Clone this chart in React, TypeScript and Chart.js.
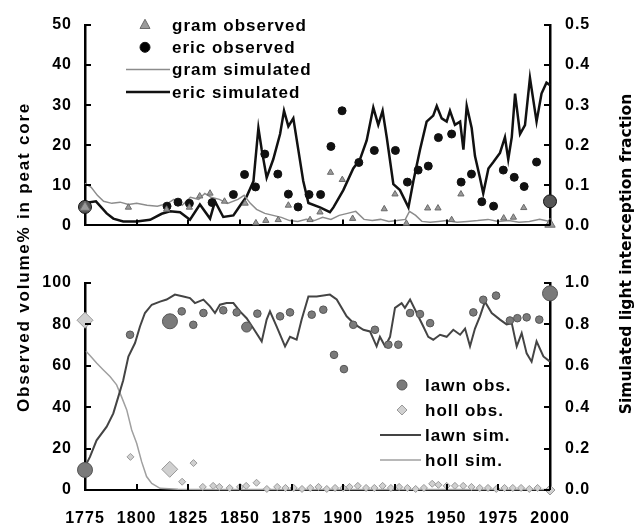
import React, { useEffect, useRef } from "react";
import { Chart, registerables } from "chart.js";

Chart.register(...registerables);

const FONT = '"Liberation Sans", Arial, sans-serif';

// ---------------- DATA (top panel) ----------------
const X_TICKS = [1775, 1800, 1825, 1850, 1875, 1900, 1925, 1950, 1975, 2000];
const TOP_LEFT_TICKS = [0, 10, 20, 30, 40, 50];
const TOP_RIGHT_TICKS = [0, 0.1, 0.2, 0.3, 0.4, 0.5];
const BOTTOM_LEFT_TICKS = [0, 20, 40, 60, 80, 100];
const BOTTOM_RIGHT_TICKS = [0, 0.2, 0.4, 0.6, 0.8, 1.0];

// observed volume % [year, value]
const gramObserved = [
  [1775, 4.5], [1796, 4.5], [1814.5, 4.0], [1825.5, 4.5], [1830.5, 7.3], [1835.5, 8.0],
  [1842.5, 6.0], [1852.5, 5.5], [1857.7, 0.6], [1862.5, 1.2], [1868.5, 1.4], [1873.4, 5.0],
  [1883.9, 1.4], [1888.7, 3.3], [1893.8, 13.2], [1899.5, 11.4], [1904.5, 1.7], [1919.8, 4.1],
  [1925, 7.8], [1930.5, 0.5], [1940.8, 4.3], [1945.8, 4.3], [1952.4, 1.4], [1956.9, 7.8],
  [1977.6, 1.8], [1982.3, 2.0], [1987.3, 4.4], [2000, 0.3],
];
const ericObserved = [
  [1775, 4.6], [1814.7, 4.8], [1820, 5.8], [1825.5, 5.5], [1836.5, 5.7], [1846.8, 7.7],
  [1852.2, 12.7], [1857.5, 9.6], [1862, 17.8], [1868.3, 12.8], [1873.4, 7.8], [1878.1, 4.6],
  [1883.4, 7.7], [1889, 7.7], [1894, 19.7], [1899.4, 28.6], [1907.5, 15.7], [1915, 18.7],
  [1925.2, 18.7], [1931, 10.8], [1936.2, 13.8], [1941.1, 14.8], [1946, 21.9], [1952.4, 22.8],
  [1957, 10.8], [1962, 12.8], [1967, 5.9], [1972.7, 4.8], [1977.4, 13.8], [1982.7, 12],
  [1987.5, 9.7], [1993.5, 15.8], [2000, 6],
];
// simulated light interception fraction [year, value]
const gramSimulated = [
  [1775, 0.105], [1778, 0.095], [1781, 0.075], [1784, 0.06], [1788, 0.055], [1792, 0.058],
  [1796, 0.052], [1800, 0.055], [1805, 0.05], [1810, 0.048], [1815, 0.055], [1818, 0.065],
  [1822, 0.05], [1826, 0.07], [1830, 0.065], [1833, 0.08], [1836, 0.07], [1840, 0.065],
  [1844, 0.055], [1849, 0.065], [1852, 0.075], [1855, 0.055], [1858, 0.04], [1862, 0.03],
  [1866, 0.025], [1870, 0.02], [1874, 0.012], [1878, 0.01], [1882, 0.015], [1886, 0.012],
  [1890, 0.02], [1894, 0.015], [1898, 0.025], [1902, 0.03], [1906, 0.035], [1910, 0.015],
  [1914, 0.012], [1918, 0.015], [1922, 0.01], [1926, 0.012], [1930, 0.015], [1932, 0.035],
  [1935, 0.025], [1938, 0.01], [1942, 0.008], [1946, 0.01], [1950, 0.012], [1955, 0.008],
  [1960, 0.01], [1965, 0.012], [1970, 0.015], [1975, 0.01], [1980, 0.012], [1985, 0.008],
  [1990, 0.01], [1995, 0.015], [2000, 0.01],
];
const ericSimulated = [
  [1775, 0.056], [1780.3, 0.06], [1785.5, 0.03], [1788.7, 0.017], [1793.5, 0.01], [1800, 0.01],
  [1806.5, 0.014], [1812.1, 0.029], [1816.1, 0.035], [1821, 0.033], [1825.8, 0.014], [1830.6, 0.052],
  [1835.5, 0.017], [1837.9, 0.06], [1841.9, 0.021], [1846.8, 0.025], [1850, 0.049], [1853.2, 0.072],
  [1856.5, 0.11], [1858.9, 0.243], [1860.5, 0.189], [1862.9, 0.119], [1866.1, 0.165], [1869.4, 0.228],
  [1871.3, 0.286], [1873.4, 0.247], [1875.8, 0.267], [1878.2, 0.189], [1880.6, 0.111], [1883.1, 0.056],
  [1888.7, 0.045], [1893.5, 0.033], [1895.2, 0.045], [1900, 0.088], [1904.8, 0.142], [1908.1, 0.165],
  [1911.3, 0.212], [1914.5, 0.294], [1916.9, 0.251], [1919, 0.286], [1921, 0.22], [1924.2, 0.103],
  [1927.4, 0.088], [1931.5, 0.045], [1933.9, 0.111], [1937.1, 0.189], [1940.3, 0.259], [1943.5, 0.274],
  [1945.2, 0.298], [1947.6, 0.267], [1950, 0.259], [1951.6, 0.286], [1954, 0.251], [1956.5, 0.259],
  [1958.1, 0.189], [1959.7, 0.298], [1962.1, 0.243], [1963.7, 0.173], [1966.1, 0.119], [1967.7, 0.08],
  [1970.2, 0.142], [1972.6, 0.158], [1975.8, 0.181], [1978.2, 0.22], [1979.8, 0.165], [1981.5, 0.22],
  [1983.1, 0.329], [1985.5, 0.228], [1987.9, 0.25], [1990.3, 0.368], [1993.5, 0.259], [1995.9, 0.329],
  [1998.3, 0.356], [2000, 0.35],
];

// ---------------- DATA (bottom panel) ----------------
const lawnObserved = [
  [1775, 9.7], [1796.8, 75], [1816.1, 81.5], [1821.8, 86.3], [1827.4, 79.8], [1832.3, 85.5],
  [1841.9, 86.8], [1848.4, 85.8], [1853.2, 78.7], [1858.4, 85.2], [1869.4, 83.9], [1874.2, 85.8],
  [1884.7, 84.7], [1890.3, 87.1], [1895.5, 65.3], [1900.3, 58.4], [1904.8, 79.8], [1915.3, 77.4],
  [1921.8, 70.2], [1926.6, 70.2], [1932.3, 85.5], [1937.1, 85], [1942, 80.6], [1962.9, 85.8],
  [1967.7, 91.9], [1973.9, 93.9], [1980.6, 81.9], [1984.2, 83], [1988.7, 83.4], [1994.8, 82.3],
  [2000, 95],
];
const hollObserved = [
  [1775, 82], [1797, 16], [1816, 10], [1822, 4], [1827.5, 13], [1832, 1.5], [1837, 2], [1840, 1.5],
  [1845, 1], [1850, 1.5], [1853, 2], [1858, 3.5], [1863, 0.5], [1868, 1.5], [1872, 1], [1876, 1],
  [1880, 0.5], [1884, 1], [1888, 1.5], [1892, 0.5], [1896, 1], [1900, 1], [1903, 1.5], [1907, 2],
  [1911, 1], [1915, 1], [1919, 2], [1923, 1], [1927, 1.5], [1931, 1], [1935, 0.5], [1939, 1],
  [1943, 3], [1946, 2.5], [1950, 2], [1954, 2], [1958, 2], [1962, 1.5], [1966, 1], [1970, 1],
  [1974, 0.5], [1978, 1], [1982, 1], [1986, 1], [1990, 0.5], [1994, 1], [2000, 0],
];
const lawnSimulated = [
  [1775, 0.113], [1777.4, 0.16], [1780.6, 0.24], [1785.5, 0.306], [1788.7, 0.37], [1791.1, 0.45],
  [1793.5, 0.53], [1796, 0.645], [1799.2, 0.71], [1801.6, 0.79], [1804, 0.855], [1807.3, 0.895],
  [1811.3, 0.91], [1814.5, 0.92], [1818.5, 0.944], [1822.6, 0.935], [1825.8, 0.927], [1828.2, 0.903],
  [1832.3, 0.92], [1835.5, 0.887], [1837.9, 0.855], [1840.3, 0.895], [1843.5, 0.903], [1846.8, 0.903],
  [1850, 0.863], [1853.2, 0.83], [1856.5, 0.78], [1860.5, 0.718], [1862.9, 0.823], [1864.5, 0.863],
  [1867.7, 0.79], [1871.8, 0.694], [1874.2, 0.74], [1877.4, 0.726], [1879.8, 0.823], [1883.1, 0.935],
  [1887.1, 0.935], [1893.5, 0.944], [1896.8, 0.92], [1901.6, 0.839], [1905.6, 0.8], [1909.7, 0.774],
  [1912.9, 0.766], [1916.1, 0.694], [1917.7, 0.74], [1920.2, 0.694], [1922.6, 0.74], [1925, 0.88],
  [1928.2, 0.903], [1929.8, 0.88], [1932.3, 0.92], [1935.5, 0.855], [1938.7, 0.79], [1941.1, 0.74],
  [1943.5, 0.726], [1946.8, 0.75], [1950, 0.74], [1953.2, 0.774], [1956.5, 0.75], [1958.9, 0.78],
  [1961.3, 0.694], [1963.7, 0.78], [1966.1, 0.839], [1968.5, 0.91], [1971.8, 0.855], [1975.8, 0.823],
  [1979, 0.8], [1981.5, 0.806], [1983.9, 0.694], [1986.3, 0.758], [1988.7, 0.66], [1991.1, 0.62],
  [1993.5, 0.718], [1996.8, 0.645], [2000, 0.62],
];
const hollSimulated = [
  [1775.5, 0.67], [1777.4, 0.65], [1780.6, 0.613], [1783.9, 0.58], [1787.1, 0.548], [1790.3, 0.508],
  [1792.7, 0.45], [1795.2, 0.387], [1797.6, 0.29], [1800, 0.226], [1802.4, 0.137], [1804.8, 0.065],
  [1807.3, 0.032], [1811.3, 0.008], [1820, 0.004], [1840, 0.003], [1870, 0.003], [1900, 0.003],
  [1930, 0.003], [1960, 0.003], [2000, 0.003],
];

const toXY = (arr: number[][]) => arr.map(([x, y]) => ({ x, y }));
const bigAtEnds = (arr: number[][], big: number, small: number) =>
  arr.map((_, i) => (i === 0 || i === arr.length - 1 ? big : small));

// ---------------- plugins ----------------
const inwardTicks = {
  id: "inwardTicks",
  beforeDraw(chart: any) {
    chart.ctx.letterSpacing = "1px";
  },
  afterDraw(chart: any) {
    const ctx = chart.ctx;
    const a = chart.chartArea;
    ctx.save();
    ctx.strokeStyle = "#000";
    ctx.lineWidth = 2;
    Object.values(chart.scales).forEach((s: any) => {
      const len = 6;
      (s.ticks || []).forEach((t: any) => {
        const p = Math.round(s.getPixelForValue(t.value));
        ctx.beginPath();
        if (s.axis === "x") {
          ctx.moveTo(p, a.bottom);
          ctx.lineTo(p, a.bottom - len);
        } else if (s.position === "left") {
          ctx.moveTo(a.left, p);
          ctx.lineTo(a.left + len, p);
        } else {
          ctx.moveTo(a.right, p);
          ctx.lineTo(a.right - len, p);
        }
        ctx.stroke();
      });
    });
    ctx.restore();
  },
};

function drawMarker(ctx: CanvasRenderingContext2D, style: string, x: number, y: number, r: number) {
  ctx.beginPath();
  if (style === "circle") {
    ctx.arc(x, y, r, 0, Math.PI * 2);
  } else if (style === "triangle") {
    ctx.moveTo(x, y - r * 1.15);
    ctx.lineTo(x + r, y + r * 0.7);
    ctx.lineTo(x - r, y + r * 0.7);
    ctx.closePath();
  } else if (style === "rectRot") {
    ctx.moveTo(x, y - r);
    ctx.lineTo(x + r, y);
    ctx.lineTo(x, y + r);
    ctx.lineTo(x - r, y);
    ctx.closePath();
  }
  ctx.fill();
  ctx.stroke();
}

const customLegend = {
  id: "customLegend",
  afterDraw(chart: any, _args: any, opts: any) {
    const ctx = chart.ctx;
    ctx.save();
    ctx.font = `bold 17px ${FONT}`;
    ctx.letterSpacing = "1px";
    ctx.textBaseline = "middle";
    ctx.textAlign = "left";
    chart.data.datasets.forEach((ds: any, i: number) => {
      const y = opts.y + i * opts.gap;
      ctx.save();
      if (ds.showLine === false) {
        ctx.fillStyle = ds.pointBackgroundColor;
        ctx.strokeStyle = ds.pointBorderColor;
        ctx.lineWidth = 1;
        drawMarker(ctx, ds.pointStyle, opts.markerX, y, opts.markerR);
      } else {
        ctx.strokeStyle = ds.borderColor;
        ctx.lineWidth = ds.borderWidth;
        ctx.beginPath();
        ctx.moveTo(opts.lineX0, y);
        ctx.lineTo(opts.lineX1, y);
        ctx.stroke();
      }
      ctx.restore();
      ctx.fillStyle = "#000";
      ctx.fillText(ds.label, opts.textX, y + 1);
    });
    ctx.restore();
  },
};

const tickFont = { family: FONT, size: 16, weight: "bold" as const };

function yScale(position: "left" | "right", min: number, max: number, tickVals: number[], decimals: number, width: number) {
  return {
    type: "linear" as const,
    position,
    min,
    max,
    afterBuildTicks: (s: any) => {
      s.ticks = tickVals.map((v) => ({ value: v }));
    },
    afterFit: (s: any) => {
      s.width = width;
    },
    grid: { display: false, drawTicks: false },
    border: { display: true, color: "#000", width: 2.5 },
    ticks: {
      color: "#000",
      font: tickFont,
      padding: position === "left" ? 13 : 15,
      callback: (v: any) => Number(v).toFixed(decimals),
    },
  };
}

function xScale(showLabels: boolean, height: number) {
  return {
    type: "linear" as const,
    position: "bottom" as const,
    min: 1775,
    max: 2000,
    afterBuildTicks: (s: any) => {
      s.ticks = X_TICKS.map((v) => ({ value: v }));
    },
    afterFit: (s: any) => {
      s.height = height;
    },
    grid: { display: false, drawTicks: false },
    border: { display: true, color: "#000", width: 2 },
    ticks: {
      display: showLabels,
      color: "#000",
      font: tickFont,
      padding: 19,
      maxRotation: 0,
      autoSkip: false,
      callback: (v: any) => String(v),
    },
  };
}

function useChart(ref: React.RefObject<HTMLCanvasElement>, build: () => any) {
  useEffect(() => {
    if (!ref.current) return;
    const chart = new Chart(ref.current, build());
    return () => chart.destroy();
  }, []);
}

function TopChart() {
  const ref = useRef<HTMLCanvasElement>(null);
  useChart(ref, () => ({
    type: "line",
    data: {
      datasets: [
        {
          label: "gram observed",
          data: toXY(gramObserved),
          yAxisID: "yL",
          showLine: false,
          pointStyle: "triangle",
          pointRadius: bigAtEnds(gramObserved, 6, 3.6),
          pointBackgroundColor: "#9a9a9a",
          pointBorderColor: "#6a6a6a",
          pointBorderWidth: 1,
          clip: false,
        },
        {
          label: "eric observed",
          data: toXY(ericObserved),
          yAxisID: "yL",
          showLine: false,
          pointStyle: "circle",
          pointRadius: bigAtEnds(ericObserved, 6.5, 4),
          pointBackgroundColor: ericObserved.map((_, i) => (i === 0 || i === ericObserved.length - 1 ? "#555" : "#111")),
          pointBorderColor: "#111",
          pointBorderWidth: 1,
          clip: false,
        },
        {
          label: "gram simulated",
          data: toXY(gramSimulated),
          yAxisID: "yR",
          borderColor: "#8c8c8c",
          borderWidth: 1.5,
          pointRadius: 0,
          tension: 0,
          clip: false,
        },
        {
          label: "eric simulated",
          data: toXY(ericSimulated),
          yAxisID: "yR",
          borderColor: "#111",
          borderWidth: 2.5,
          pointRadius: 0,
          tension: 0,
          clip: false,
        },
      ],
    },
    options: {
      responsive: false,
      animation: false,
      events: [],
      layout: { padding: { top: 25, left: 0, right: 0, bottom: 0 } },
      plugins: {
        legend: { display: false },
        tooltip: { enabled: false },
        customLegend: { y: 25, gap: 22.3, markerX: 145, markerR: 5, textX: 172, lineX0: 126, lineX1: 170 },
      },
      scales: {
        x: xScale(false, 12.5),
        yL: yScale("left", 0, 50, TOP_LEFT_TICKS, 0, 85),
        yR: yScale("right", 0, 0.5, TOP_RIGHT_TICKS, 1, 93),
      },
    },
    plugins: [inwardTicks, customLegend],
  }));
  return (
    <canvas ref={ref} width={643} height={250} style={{ position: "absolute", left: 0, top: 0, width: 643, height: 250 }} />
  );
}

function BottomChart() {
  const ref = useRef<HTMLCanvasElement>(null);
  useChart(ref, () => ({
    type: "line",
    data: {
      datasets: [
        {
          label: "lawn obs.",
          data: toXY(lawnObserved),
          yAxisID: "yL",
          showLine: false,
          pointStyle: "circle",
          pointRadius: lawnObserved.map((_, i) => (i === 0 || i === 2 || i === lawnObserved.length - 1 ? 7.5 : i === 8 ? 5 : 3.8)),
          pointBackgroundColor: "#7a7a7a",
          pointBorderColor: "#555",
          pointBorderWidth: 1,
          clip: false,
        },
        {
          label: "holl obs.",
          data: toXY(hollObserved),
          yAxisID: "yL",
          showLine: false,
          pointStyle: "rectRot",
          pointRadius: hollObserved.map((_, i) => (i === 0 || i === 2 ? 8 : i === hollObserved.length - 1 ? 5 : 3.5)),
          pointBackgroundColor: "#d0d0d0",
          pointBorderColor: "#999",
          pointBorderWidth: 1,
          clip: false,
        },
        {
          label: "lawn sim.",
          data: toXY(lawnSimulated),
          yAxisID: "yR",
          borderColor: "#444",
          borderWidth: 2,
          pointRadius: 0,
          tension: 0,
          clip: false,
        },
        {
          label: "holl sim.",
          data: toXY(hollSimulated),
          yAxisID: "yR",
          borderColor: "#a0a0a0",
          borderWidth: 1.5,
          pointRadius: 0,
          tension: 0,
          clip: false,
        },
      ],
    },
    options: {
      responsive: false,
      animation: false,
      events: [],
      layout: { padding: { top: 33, left: 0, right: 0, bottom: 0 } },
      plugins: {
        legend: { display: false },
        tooltip: { enabled: false },
        customLegend: { y: 135, gap: 25, markerX: 402, markerR: 5, textX: 425, lineX0: 380, lineX1: 421 },
      },
      scales: {
        x: xScale(true, 39),
        yL: yScale("left", 0, 100, BOTTOM_LEFT_TICKS, 0, 85),
        yR: yScale("right", 0, 1, BOTTOM_RIGHT_TICKS, 1, 93),
      },
    },
    plugins: [inwardTicks, customLegend],
  }));
  return (
    <canvas ref={ref} width={643} height={279} style={{ position: "absolute", left: 0, top: 250, width: 643, height: 279 }} />
  );
}

export default function App() {
  return (
    <div style={{ position: "absolute", left: 0, top: 0, width: 643, height: 529, background: "#fff", overflow: "hidden" }}>
      <TopChart />
      <BottomChart />
      <div
        style={{
          position: "absolute",
          left: 26 - 200,
          top: 257 - 12,
          width: 400,
          height: 24,
          lineHeight: "24px",
          textAlign: "center",
          transform: "rotate(-90deg)",
          font: `bold 17px ${FONT}`,
          letterSpacing: "1.8px",
          color: "#000",
          whiteSpace: "nowrap",
        }}
      >
        Observed volume% in peat core
      </div>
      <div
        style={{
          position: "absolute",
          left: 629 - 200,
          top: 254 - 12,
          width: 400,
          height: 24,
          lineHeight: "24px",
          textAlign: "center",
          transform: "rotate(-90deg)",
          font: `bold 15.5px "DejaVu Sans", Verdana, sans-serif`,
          color: "#000",
          whiteSpace: "nowrap",
        }}
      >
        Simulated light interception fraction
      </div>
    </div>
  );
}
